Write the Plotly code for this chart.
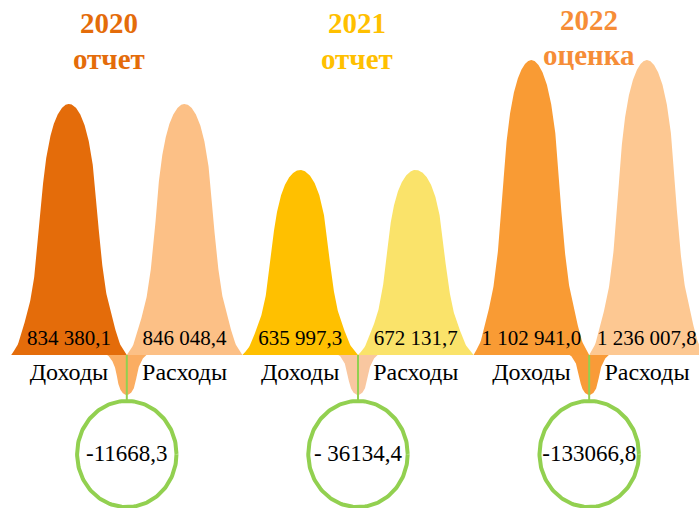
import numpy as np
import plotly.graph_objects as go

# ---------------- data ----------------
years = ["2020", "2021", "2022"]
year_notes = ["отчет", "отчет", "оценка"]
categories = ["Доходы", "Расходы"]
income = [834380.1, 635997.3, 1102941.0]
expense = [846048.4, 672131.7, 1236007.8]
deficit = [-11668.3, -36134.4, -133066.8]
income_labels = ["834 380,1", "635 997,3", "1 102 941,0"]
expense_labels = ["846 048,4", "672 131,7", "1 236 007,8"]
deficit_labels = ["-11668,3", "- 36134,4", "-133066,8"]
# height of the drawn bell shapes (thousand roubles)
peak_level = [837, 617, 983]

# ---------------- style ----------------
income_colors = ["#E46C0A", "#FFC000", "#F99B34"]
expense_colors = ["#FCC086", "#FAE36A", "#FDC892"]
dip_colors = ["#FBAD62", "#F9C7A0", "#F99B38"]
title_colors = ["#E46C0A", "#FFC000", "#F68D37"]
green = "#92D050"
FONT = "Liberation Serif"

# normalised bell outline: relative height -> relative half-width
PROFILE_H = [0.0, 0.04, 0.12, 0.24, 0.36, 0.47, 0.57, 0.68, 0.79, 0.90, 0.96, 0.99, 1.0]
PROFILE_W = [1.0, 0.89, 0.78, 0.65, 0.575, 0.525, 0.49, 0.45, 0.39, 0.29, 0.19, 0.095, 0.0]

PEAK_HALF = 0.5
DIP_HALF = 0.17
DIP_DEPTH = 133
CIRCLE_CY = -330
CIRCLE_RX = 0.43
CIRCLE_RY = 177
title_x_shift = [-0.15, -0.01, 0.0]

W, H = 699, 508
x_range = [-0.0969, 5.950]
y_range = [-510, 1183.3]


def pchip(x, y, xi):
    x = np.asarray(x, float)
    y = np.asarray(y, float)
    h = np.diff(x)
    d = np.diff(y) / h
    n = len(x)
    m = np.zeros(n)
    m[0], m[-1] = d[0], d[-1]
    for k in range(1, n - 1):
        if d[k - 1] * d[k] > 0:
            w1 = 2 * h[k] + h[k - 1]
            w2 = h[k] + 2 * h[k - 1]
            m[k] = (w1 + w2) / (w1 / d[k - 1] + w2 / d[k])
    idx = np.clip(np.searchsorted(x, xi) - 1, 0, n - 2)
    t = (xi - x[idx]) / h[idx]
    h00 = 2 * t ** 3 - 3 * t ** 2 + 1
    h10 = t ** 3 - 2 * t ** 2 + t
    h01 = -2 * t ** 3 + 3 * t ** 2
    h11 = t ** 3 - t ** 2
    return h00 * y[idx] + h10 * h[idx] * m[idx] + h01 * y[idx + 1] + h11 * h[idx] * m[idx + 1]


def profile():
    # interpolate in s = sqrt(1 - h) so the top of the bell is a round dome
    s_nodes = np.sqrt(1 - np.asarray(PROFILE_H))[::-1]
    w_nodes = np.asarray(PROFILE_W)[::-1]
    s = np.linspace(0, 1, 241)
    w = np.clip(pchip(s_nodes, w_nodes, s), 0, 1)
    hh = 1 - s ** 2
    return hh[::-1], w[::-1]


HH, WW = profile()


def bell(center, height, half):
    xs = np.concatenate([center + half * WW, (center - half * WW)[::-1]])
    ys = np.concatenate([height * HH, (height * HH)[::-1]])
    return list(xs), list(ys)


fig = go.Figure()

for i, yr in enumerate(years):
    for j, col in enumerate([income_colors[i], expense_colors[i]]):
        cx = 2 * i + j + 0.5
        xs, ys = bell(cx, peak_level[i], PEAK_HALF)
        fig.add_trace(go.Scatter(x=xs, y=ys, mode="lines", fill="toself",
                                 fillcolor=col, line=dict(width=0), hoverinfo="skip"))
    # deficit dip
    dx = 2 * i + 1
    xs, ys = bell(dx, -DIP_DEPTH, DIP_HALF)
    fig.add_trace(go.Scatter(x=xs, y=ys, mode="lines", fill="toself",
                             fillcolor=dip_colors[i], line=dict(width=0), hoverinfo="skip"))
    # connector
    fig.add_trace(go.Scatter(x=[dx, dx], y=[0, CIRCLE_CY + CIRCLE_RY], mode="lines",
                             line=dict(color=green, width=2), hoverinfo="skip"))
    # circle
    th = np.linspace(0, 2 * np.pi, 181)
    fig.add_trace(go.Scatter(x=list(dx + CIRCLE_RX * np.cos(th)),
                             y=list(CIRCLE_CY + CIRCLE_RY * np.sin(th)),
                             mode="lines", line=dict(color=green, width=4), hoverinfo="skip"))

# value labels
val_x, val_text = [], []
for i in range(len(years)):
    val_x += [2 * i + 0.5, 2 * i + 1.5]
    val_text += [income_labels[i], expense_labels[i]]
fig.add_trace(go.Scatter(x=val_x, y=[50] * len(val_x), mode="text", text=val_text,
                         textfont=dict(family=FONT, size=21, color="black"),
                         textposition="middle center", hoverinfo="skip"))
# category labels
cat_text = categories * len(years)
fig.add_trace(go.Scatter(x=val_x, y=[-63] * len(val_x), mode="text", text=cat_text,
                         textfont=dict(family=FONT, size=24, color="black"),
                         textposition="middle center", hoverinfo="skip"))
# deficit labels
fig.add_trace(go.Scatter(x=[2 * i + 1 for i in range(len(years))],
                         y=[CIRCLE_CY - 5] * len(years), mode="text", text=deficit_labels,
                         textfont=dict(family=FONT, size=23, color="black"),
                         textposition="middle center", hoverinfo="skip"))

# year titles
for i, yr in enumerate(years):
    tx = 2 * i + 1 + title_x_shift[i]
    top = 1105 if i < 2 else 1118
    fig.add_annotation(x=tx, y=top, xref="x", yref="y", text="<b>%s</b>" % yr,
                       showarrow=False, font=dict(family=FONT, size=29, color=title_colors[i]))
    fig.add_annotation(x=tx, y=top - 118, xref="x", yref="y", text="<b>%s</b>" % year_notes[i],
                       showarrow=False, font=dict(family=FONT, size=29, color=title_colors[i]))

fig.update_layout(
    width=W, height=H, autosize=False,
    margin=dict(l=0, r=0, t=0, b=0, pad=0),
    paper_bgcolor="white", plot_bgcolor="white",
    showlegend=False,
    xaxis=dict(range=x_range, visible=False, fixedrange=True),
    yaxis=dict(range=y_range, visible=False, fixedrange=True),
)

fig.write_html("out.html", config={"displayModeBar": False},
               post_script="document.body.style.margin='0';document.body.style.overflow='hidden';")
